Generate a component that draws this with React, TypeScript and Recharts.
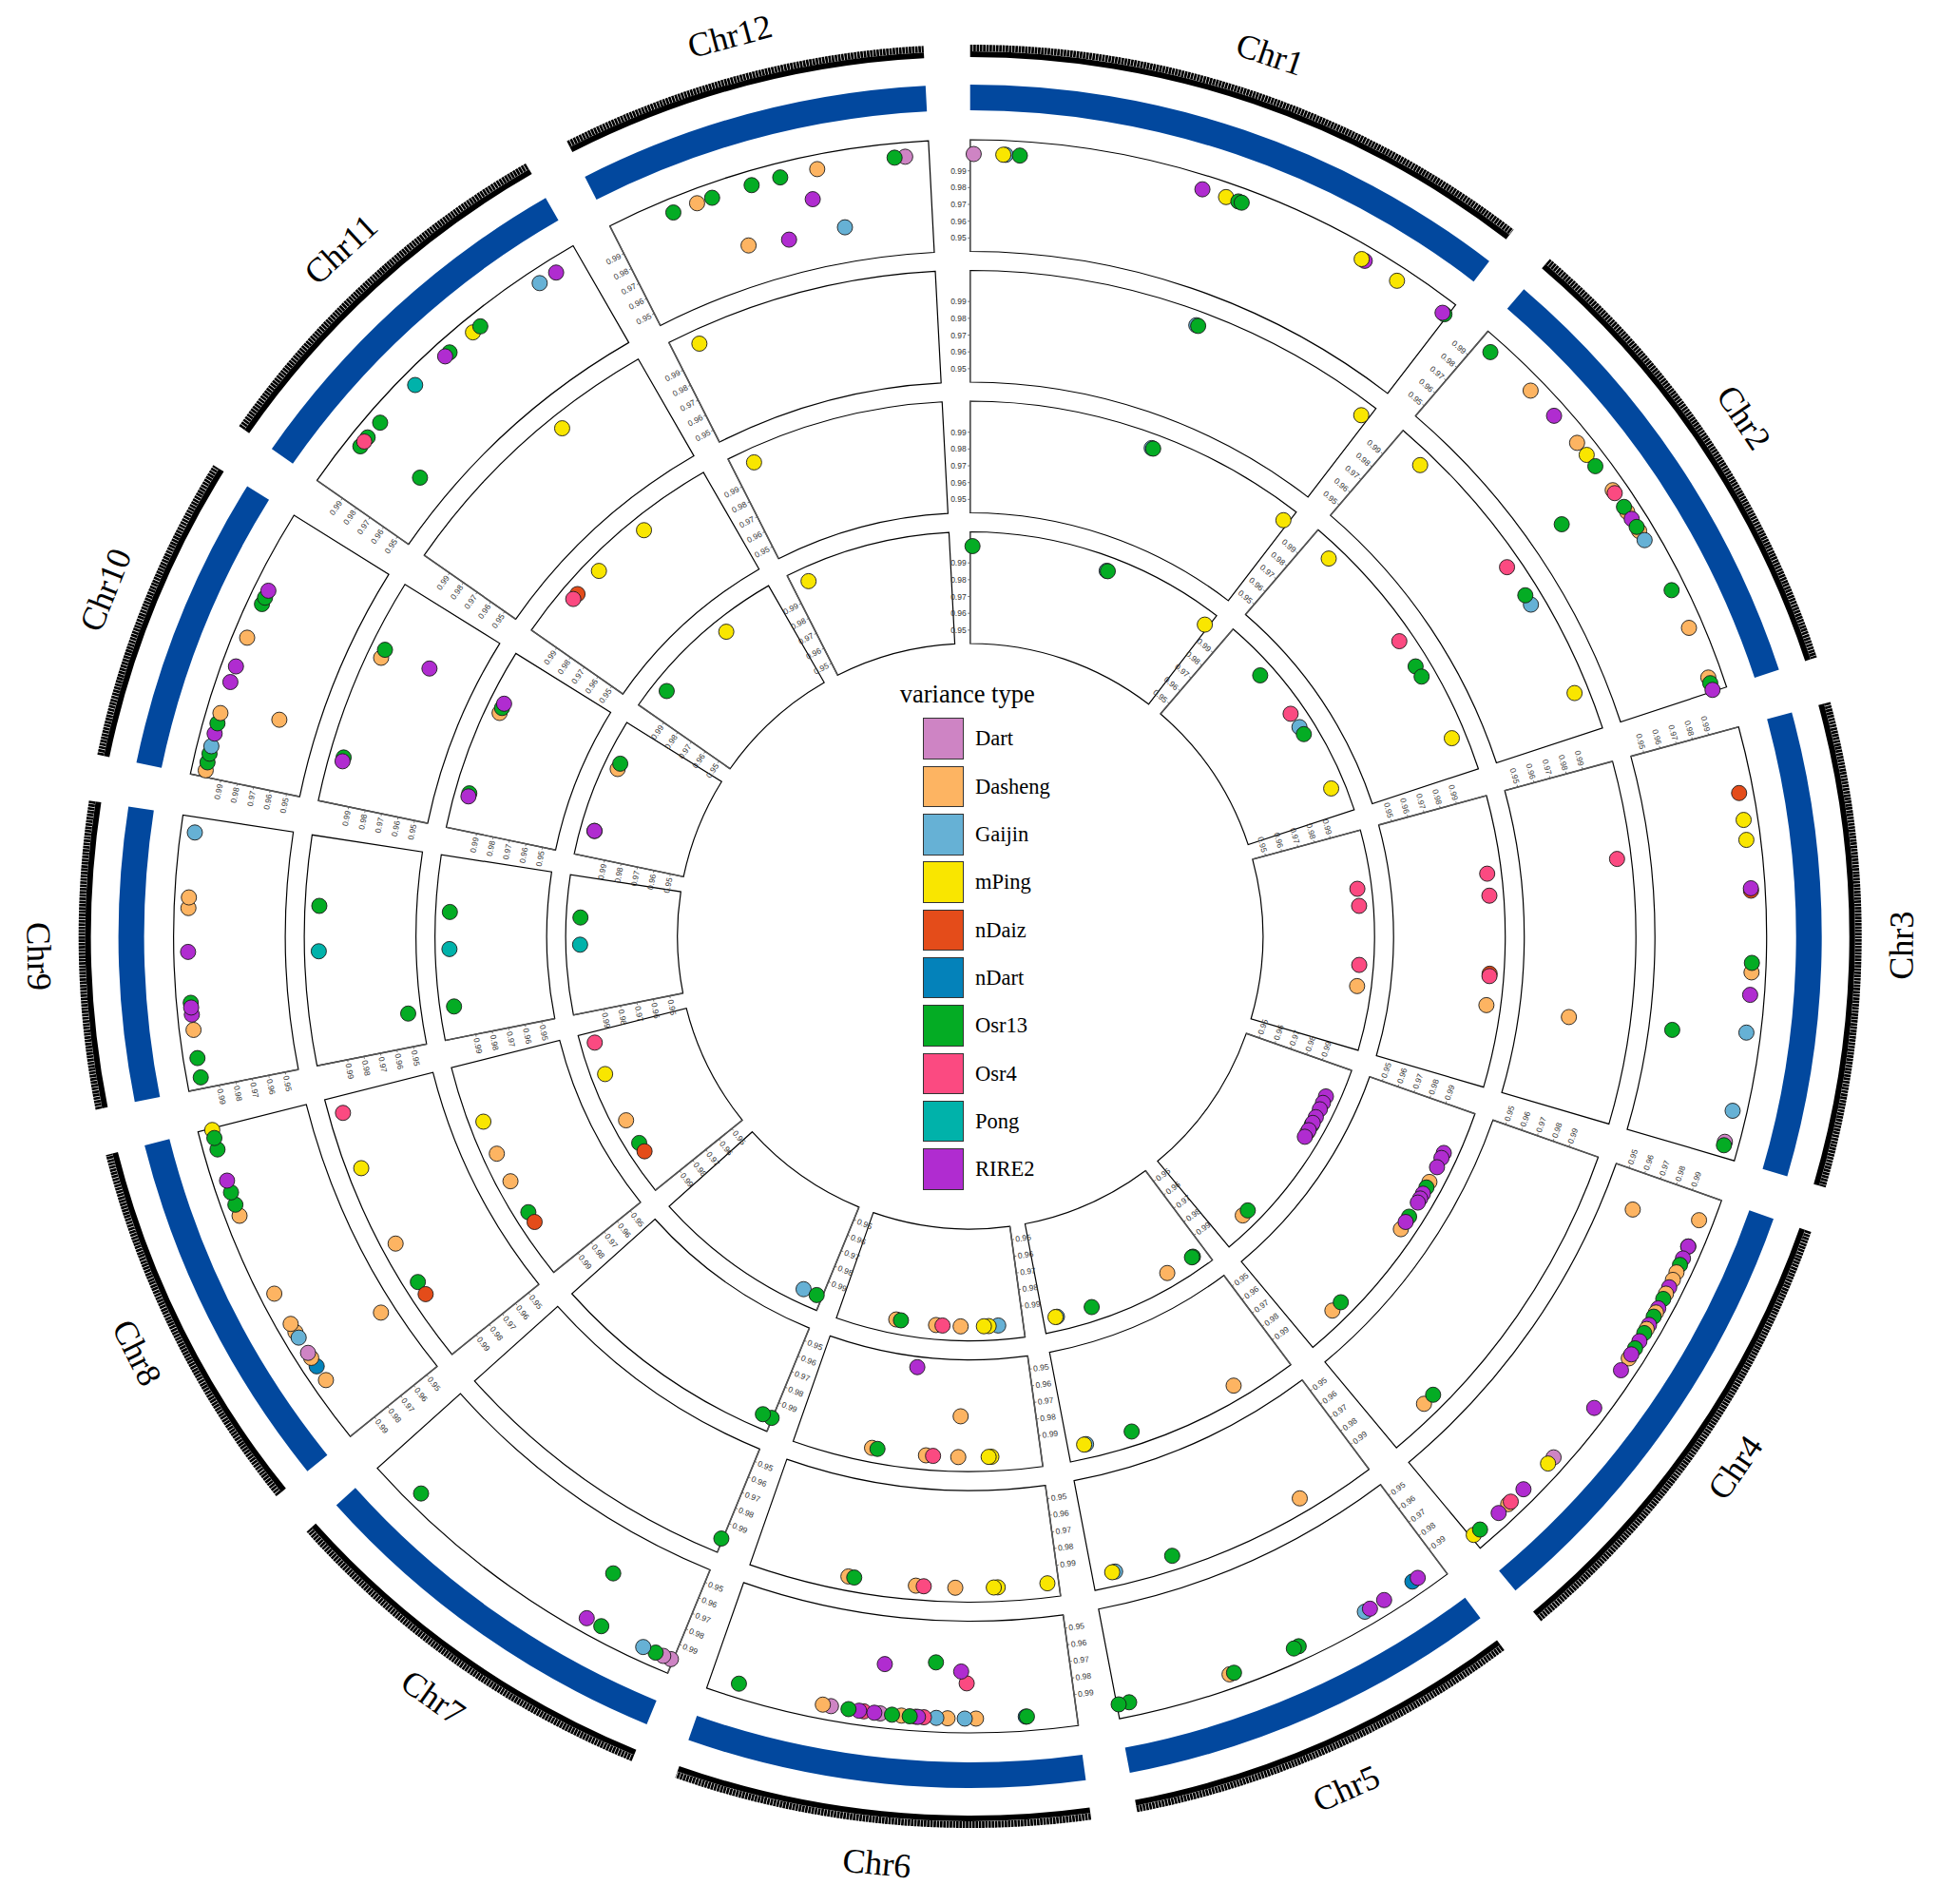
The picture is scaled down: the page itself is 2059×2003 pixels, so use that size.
import { PieChart, Pie, ScatterChart, Scatter, XAxis, YAxis } from "recharts";

const WIDTH = 2059;
const HEIGHT = 2003;
const CX = 1020.7;
const CY = 985;

const CHROMOSOMES = ["Chr1", "Chr2", "Chr3", "Chr4", "Chr5", "Chr6", "Chr7", "Chr8", "Chr9", "Chr10", "Chr11", "Chr12"];
// rice chromosome lengths, Mb
const CHR_LENGTHS = [43.27, 35.94, 36.41, 35.5, 29.96, 31.25, 29.7, 28.44, 23.01, 23.21, 29.02, 27.53];
const GAP_DEG = 3;

const VARIANCE_TYPES = ["Dart", "Dasheng", "Gaijin", "mPing", "nDaiz", "nDart", "Osr13", "Osr4", "Pong", "RIRE2"];
const TYPE_COLORS = ["#CE84C4", "#FDB462", "#66B1D5", "#F9E600", "#E44C1A", "#0482BA", "#04AC24", "#FB4A81", "#00B2AA", "#B02CD0"];

const Y_TICKS = [0.95, 0.96, 0.97, 0.98, 0.99];
const Y_MIN = 0.942;
const Y_MAX = 1.0085;

// ring radii (px)
const TICK_RING = [925, 931];
const BLUE_RING = [869, 896];
const TRACK_OUTER = [838, 700.5, 563, 425.5];
const TRACK_H = 117.5;
const LABEL_R = 980;

// [chromosome, position (Mb), value, variance type]
type Hit = [number, number, number, string];

const TRACK1_HITS: Hit[] = [
  [1, 0.3, 1, "Dart"], [1, 3.0, 1, "Gaijin"], [1, 2.8, 1, "mPing"], [1, 4.2, 1, "Osr13"],
  [1, 19.9, 1, "RIRE2"], [1, 22.0, 1, "mPing"], [1, 23.1, 1, "Osr13"], [1, 23.4, 1, "Osr13"],
  [1, 34.9, 1, "RIRE2"], [1, 34.6, 1, "mPing"], [1, 38.1, 1, "mPing"], [1, 43.0, 1, "Osr13"], [1, 42.8, 1, "RIRE2"],
  [2, 1.3, 1, "Osr13"], [2, 6.0, 1, "Dasheng"], [2, 8.9, 1, "RIRE2"], [2, 11.9, 1, "Dasheng"], [2, 13.2, 1, "mPing"],
  [2, 14.4, 1, "Osr13"], [2, 16.9, 1, "Dasheng"], [2, 17.2, 1, "Osr4"], [2, 19.1, 1, "Dasheng"], [2, 18.6, 1, "Osr13"],
  [2, 19.8, 1, "RIRE2"], [2, 21.0, 1, "Dasheng"], [2, 20.6, 1, "Osr13"], [2, 21.9, 1, "Gaijin"], [2, 16.8, 0.9635, "Osr13"],
  [2, 26.7, 1, "Osr13"], [2, 30.2, 1, "Dasheng"], [2, 34.7, 1, "Dasheng"], [2, 35.2, 1, "Osr13"], [2, 35.8, 1, "RIRE2"],
  [3, 5.4, 1, "nDaiz"], [3, 7.7, 1, "mPing"], [3, 9.4, 1, "mPing"], [3, 13.7, 1, "nDaiz"], [3, 13.5, 1, "RIRE2"],
  [3, 20.6, 1, "Dasheng"], [3, 19.8, 1, "Osr13"], [3, 22.5, 1, "RIRE2"], [3, 25.7, 1, "Gaijin"], [3, 26.3, 0.956, "Osr13"],
  [3, 32.4, 1, "Gaijin"], [3, 35.1, 1, "Dart"], [3, 35.4, 1, "Osr13"],
  [4, 2.2, 1, "Dasheng"], [4, 3.5, 0.961, "Dasheng"], [4, 4.6, 1, "Osr13"], [4, 4.6, 1, "RIRE2"], [4, 5.7, 1, "RIRE2"],
  [4, 6.3, 1, "Osr13"], [4, 7.0, 1, "Dasheng"], [4, 7.7, 1, "Dasheng"], [4, 8.4, 1, "RIRE2"], [4, 9.0, 1, "Dasheng"],
  [4, 9.5, 1, "Osr13"], [4, 10.4, 1, "RIRE2"], [4, 10.8, 1, "Dasheng"], [4, 11.2, 1, "Osr13"], [4, 12.0, 1, "RIRE2"],
  [4, 12.4, 1, "Dasheng"], [4, 12.8, 1, "Osr13"], [4, 13.6, 1, "RIRE2"], [4, 14.3, 1, "Osr13"], [4, 15.3, 1, "Dasheng"],
  [4, 14.9, 1, "RIRE2"], [4, 16.5, 1, "RIRE2"], [4, 20.4, 1, "RIRE2"], [4, 25.8, 1, "Dart"], [4, 26.5, 1, "mPing"],
  [4, 29.5, 1, "RIRE2"], [4, 31.3, 1, "Dasheng"], [4, 31.0, 1, "Osr4"], [4, 32.4, 1, "RIRE2"], [4, 35.2, 1, "mPing"],
  [4, 34.5, 1, "Osr13"],
  [5, 2.75, 1, "nDart"], [5, 2.2, 1, "RIRE2"], [5, 5.6, 1, "RIRE2"], [5, 7.5, 1, "Gaijin"], [5, 7.0, 1, "RIRE2"],
  [5, 13.8, 1, "Osr13"], [5, 14.25, 1, "Osr13"], [5, 20.1, 1, "Dasheng"], [5, 19.7, 1, "Osr13"], [5, 28.9, 1, "Osr13"],
  [5, 29.8, 1, "Osr13"],
  [6, 4.3, 1, "nDart"], [6, 4.2, 1, "Osr13"], [6, 8.5, 1, "Dasheng"], [6, 9.45, 1, "Gaijin"], [6, 10.9, 1, "Dasheng"],
  [6, 11.85, 1, "Gaijin"], [6, 12.9, 1, "Osr4"], [6, 13.6, 1, "Dasheng"], [6, 13.4, 1, "RIRE2"], [6, 14.8, 1, "Dasheng"],
  [6, 14.1, 1, "Osr13"], [6, 16.6, 1, "Dart"], [6, 15.6, 1, "Osr13"], [6, 18.0, 1, "Osr4"], [6, 17.1, 1, "RIRE2"],
  [6, 18.4, 1, "RIRE2"], [6, 19.3, 1, "Osr13"], [6, 20.8, 1, "Dart"], [6, 21.5, 1, "Dasheng"], [6, 9.3, 0.979, "Osr4"],
  [6, 9.8, 0.972, "RIRE2"], [6, 12.1, 0.967, "Osr13"], [6, 16.7, 0.9705, "RIRE2"], [6, 28.8, 1, "Osr13"],
  [7, 0.2, 1, "Dart"], [7, 0.9, 1, "Dart"], [7, 1.6, 1, "Osr13"], [7, 2.75, 1, "Gaijin"], [7, 6.7, 1, "Osr13"],
  [7, 8.1, 1, "RIRE2"], [7, 8.0, 0.969, "Osr13"], [7, 25.65, 1, "Osr13"],
  [8, 5.0, 1, "Dasheng"], [8, 6.4, 1, "nDart"], [8, 7.25, 1, "Dasheng"], [8, 7.75, 1, "Dart"], [8, 9.8, 1, "Dasheng"],
  [8, 9.26, 1, "Gaijin"], [8, 10.6, 1, "Dasheng"], [8, 13.5, 1, "Dasheng"], [8, 7.3, 0.9505, "Dasheng"], [8, 20.7, 1, "Dasheng"],
  [8, 21.7, 1, "Osr13"], [8, 22.8, 1, "Osr13"], [8, 23.85, 1, "RIRE2"], [8, 28.3, 1, "mPing"], [8, 26.6, 1, "Osr13"],
  [8, 27.6, 1, "Osr13"],
  [9, 0.95, 1, "Osr13"], [9, 2.6, 1, "Osr13"], [9, 5.0, 1, "Dasheng"], [9, 7.3, 1, "Osr13"], [9, 6.3, 1, "RIRE2"],
  [9, 6.9, 1, "RIRE2"], [9, 11.6, 1, "RIRE2"], [9, 15.3, 1, "Dasheng"], [9, 16.2, 1, "Dasheng"], [9, 21.7, 1, "Gaijin"],
  [10, 0.56, 1, "Dasheng"], [10, 1.25, 1, "Osr13"], [10, 2.0, 1, "Osr13"], [10, 2.65, 1, "Gaijin"], [10, 3.75, 1, "RIRE2"],
  [10, 4.65, 1, "Osr13"], [10, 5.55, 1, "Dasheng"], [10, 6.5, 0.9653, "Dasheng"], [10, 8.3, 1, "RIRE2"], [10, 9.7, 1, "RIRE2"],
  [10, 12.3, 1, "Dasheng"], [10, 15.4, 1, "Osr13"], [10, 16.0, 1, "Osr13"], [10, 16.65, 1, "RIRE2"],
  [11, 4.46, 1, "Osr13"], [11, 5.43, 1, "Osr13"], [11, 4.98, 1, "Osr4"], [11, 5.65, 0.9607, "Osr13"], [11, 7.06, 1, "Osr13"],
  [11, 11.4, 1, "Pong"], [11, 15.4, 1, "Osr13"], [11, 14.9, 1, "RIRE2"], [11, 18.0, 1, "mPing"], [11, 18.8, 1, "Osr13"],
  [11, 25.0, 1, "Gaijin"], [11, 26.65, 1, "RIRE2"],
  [12, 5.3, 1, "Osr13"], [12, 7.45, 1, "Dasheng"], [12, 8.8, 1, "Osr13"], [12, 10.5, 0.9662, "Dasheng"], [12, 12.3, 1, "Osr13"],
  [12, 14.2, 0.9628, "RIRE2"], [12, 14.8, 1, "Osr13"], [12, 17.1, 0.983, "RIRE2"], [12, 18.0, 1, "Dasheng"],
  [12, 19.45, 0.9629, "Gaijin"], [12, 25.5, 1, "Dart"], [12, 24.6, 1, "Osr13"],
];

const TRACK2_HITS: Hit[] = [
  [1, 23.4, 1, "Gaijin"], [1, 23.6, 1, "Osr13"], [1, 42.5, 1, "mPing"],
  [2, 3.6, 1, "mPing"], [2, 17.2, 1, "Osr4"], [2, 21.7, 1, "Gaijin"], [2, 20.6, 1, "Osr13"], [2, 31.7, 1, "mPing"],
  [3, 9.7, 1, "Osr4"], [3, 26.4, 0.9718, "Dasheng"],
  [4, 30.5, 1, "Dasheng"], [4, 29.2, 1, "Osr13"],
  [5, 7.4, 1, "Dasheng"], [5, 21.6, 1, "Osr13"], [5, 27.6, 1, "Gaijin"], [5, 27.9, 1, "mPing"],
  [6, 1.15, 1, "mPing"], [6, 6.2, 1, "mPing"], [6, 6.6, 1, "mPing"], [6, 10.5, 1, "Dasheng"], [6, 14.5, 1, "Dasheng"],
  [6, 13.7, 1, "Osr4"], [6, 21.4, 1, "Dasheng"], [6, 20.8, 1, "Osr13"],
  [7, 0.15, 1, "Osr13"],
  [8, 7.9, 1, "Osr13"], [8, 6.44, 1, "nDaiz"], [8, 12.4, 1, "Dasheng"], [8, 20.8, 1, "mPing"], [8, 26.7, 1, "Osr4"],
  [9, 3.9, 0.9498, "Osr13"], [9, 11.4, 1, "Pong"], [9, 16.0, 1, "Osr13"],
  [10, 4.8, 1, "Osr13"], [10, 4.4, 1, "RIRE2"], [10, 15.6, 1, "Dasheng"], [10, 16.5, 1, "Osr13"], [10, 16.8, 0.9713, "RIRE2"],
  [11, 18.8, 1, "mPing"],
  [12, 2.7, 1, "mPing"],
];

const TRACK3_HITS: Hit[] = [
  [1, 23.5, 1, "Gaijin"], [1, 23.7, 1, "Osr13"], [1, 42.6, 1, "mPing"],
  [2, 3.4, 1, "mPing"], [2, 17.2, 1, "Osr4"], [2, 21.0, 1, "Osr13"], [2, 22.5, 1, "Osr13"], [2, 31.2, 1, "mPing"],
  [3, 9.6, 1, "Osr4"], [3, 12.4, 1, "Osr4"], [3, 22.3, 1, "nDaiz"], [3, 22.6, 1, "Osr4"], [3, 26.3, 1, "Dasheng"],
  [4, 6.0, 1, "RIRE2"], [4, 6.7, 1, "RIRE2"], [4, 8.0, 1, "RIRE2"], [4, 10.1, 1, "Dasheng"], [4, 10.9, 1, "Osr13"],
  [4, 11.8, 1, "RIRE2"], [4, 12.5, 1, "RIRE2"], [4, 13.1, 1, "RIRE2"], [4, 17.1, 1, "Dasheng"], [4, 15.2, 1, "Osr13"],
  [4, 16.0, 1, "RIRE2"], [4, 30.6, 1, "Dasheng"], [4, 29.1, 1, "Osr13"],
  [5, 7.4, 1, "Dasheng"], [5, 21.6, 1, "Osr13"], [5, 27.6, 1, "Gaijin"], [5, 27.85, 1, "mPing"],
  [6, 6.3, 1, "mPing"], [6, 6.65, 1, "mPing"], [6, 10.3, 0.9757, "Dasheng"], [6, 10.5, 1, "Dasheng"], [6, 14.6, 1, "Dasheng"],
  [6, 13.7, 1, "Osr4"], [6, 17.05, 0.9483, "RIRE2"], [6, 21.5, 1, "Dasheng"], [6, 20.8, 1, "Osr13"],
  [7, 0.1, 1, "Osr13"], [7, 1.3, 1, "Osr13"],
  [8, 7.97, 1, "Osr13"], [8, 6.5, 1, "nDaiz"], [8, 12.5, 1, "Dasheng"], [8, 16.4, 1, "Dasheng"], [8, 20.8, 1, "mPing"],
  [9, 4.0, 1, "Osr13"], [9, 11.3, 1, "Pong"], [9, 16.0, 1, "Osr13"],
  [10, 4.8, 1, "Osr13"], [10, 4.4, 1, "RIRE2"], [10, 15.7, 1, "Dasheng"], [10, 16.4, 1, "Osr13"], [10, 17.0, 1, "RIRE2"],
  [11, 7.1, 1, "nDaiz"], [11, 6.28, 1, "Osr4"], [11, 11.1, 1, "mPing"], [11, 18.8, 1, "mPing"],
  [12, 2.75, 1, "mPing"],
];

const TRACK4_HITS: Hit[] = [
  [1, 0.4, 1, "Osr13"], [1, 23.6, 1, "Gaijin"], [1, 23.8, 1, "Osr13"], [1, 42.6, 1, "mPing"],
  [2, 8.6, 1, "Osr13"], [2, 16.9, 1, "Osr4"], [2, 19.6, 1, "Gaijin"], [2, 21.0, 1, "Osr13"], [2, 31.3, 1, "mPing"],
  [3, 9.5, 1, "Osr4"], [3, 12.4, 1, "Osr4"], [3, 22.4, 1, "Osr4"], [3, 26.0, 1, "Dasheng"],
  [4, 5.6, 1, "RIRE2"], [4, 6.8, 1, "RIRE2"], [4, 8.0, 1, "RIRE2"], [4, 9.5, 1, "RIRE2"], [4, 11.0, 1, "Osr13"],
  [4, 10.6, 1, "RIRE2"], [4, 12.5, 1, "Dasheng"], [4, 12.0, 1, "RIRE2"], [4, 13.3, 1, "RIRE2"], [4, 30.3, 1, "Dasheng"],
  [4, 29.1, 1, "Osr13"],
  [5, 2.3, 1, "Osr13"], [5, 2.5, 1, "Osr13"], [5, 7.45, 1, "Dasheng"], [5, 21.5, 1, "Osr13"], [5, 27.6, 1, "Gaijin"],
  [5, 27.85, 1, "mPing"],
  [6, 4.24, 1, "Gaijin"], [6, 5.86, 1, "mPing"], [6, 6.67, 1, "mPing"], [6, 10.6, 1, "Dasheng"], [6, 14.77, 1, "Dasheng"],
  [6, 13.67, 1, "Osr4"], [6, 21.57, 1, "Dasheng"], [6, 20.76, 1, "Osr13"],
  [7, 3.4, 1, "Gaijin"], [7, 0.97, 1, "Osr13"],
  [8, 7.97, 1, "Osr13"], [8, 6.3, 1, "nDaiz"], [8, 12.4, 1, "Dasheng"], [8, 21.0, 1, "mPing"], [8, 26.6, 1, "Osr4"],
  [9, 11.5, 1, "Pong"], [9, 16.1, 1, "Osr13"],
  [10, 4.5, 1, "Osr13"], [10, 4.5, 1, "RIRE2"], [10, 15.7, 1, "Dasheng"], [10, 16.7, 1, "Osr13"],
  [11, 4.65, 1, "Osr13"], [11, 18.9, 1, "mPing"],
  [12, 2.8, 1, "mPing"],
];

const TRACKS = [TRACK1_HITS, TRACK2_HITS, TRACK3_HITS, TRACK4_HITS];

const TOTAL_MB = CHR_LENGTHS.reduce((a, b) => a + b, 0);
const DEG_PER_MB = (360 - GAP_DEG * CHROMOSOMES.length) / TOTAL_MB;
const GAP_MB = GAP_DEG / DEG_PER_MB;
const CHR_OFFSETS = CHR_LENGTHS.map((_, i) => CHR_LENGTHS.slice(0, i).reduce((a, b) => a + b, 0) + i * GAP_MB);
const X_MAX = 360 / DEG_PER_MB;

const CHR_DATA = CHROMOSOMES.map((name, i) => ({ name, length: CHR_LENGTHS[i] }));

const colorOf = (t: string) => TYPE_COLORS[VARIANCE_TYPES.indexOf(t)] ?? "#999";

// angle in degrees clockwise from 12 o'clock
const polar = (cx: number, cy: number, r: number, a: number): [number, number] => {
  const rad = (a * Math.PI) / 180;
  return [cx + r * Math.sin(rad), cy - r * Math.cos(rad)];
};

const arcPath = (cx: number, cy: number, r: number, a0: number, a1: number) => {
  const [x0, y0] = polar(cx, cy, r, a0);
  const [x1, y1] = polar(cx, cy, r, a1);
  const large = a1 - a0 > 180 ? 1 : 0;
  return `M ${x0} ${y0} A ${r} ${r} 0 ${large} 1 ${x1} ${y1}`;
};

const SERIF = "'Liberation Serif', 'Times New Roman', serif";
const SANS = "'Liberation Sans', Arial, sans-serif";

// outer ruler ticks + chromosome names
const renderChrLabel = (p: any) => {
  const a0 = 90 - p.startAngle;
  const a1 = 90 - p.endAngle;
  const am = (a0 + a1) / 2;
  const [lx, ly] = polar(p.cx, p.cy, LABEL_R, am);
  const rot = am > 90 && am < 270 ? am - 180 : am;
  const name = p.payload?.name ?? p.name;
  return (
    <g key={`chr-${name}`}>
      <path
        d={arcPath(p.cx, p.cy, 934.5, a0, a1)}
        fill="none"
        stroke="#000"
        strokeWidth={7}
        strokeDasharray="2.7 0.7"
      />
      <text
        x={lx}
        y={ly}
        transform={`rotate(${rot} ${lx} ${ly})`}
        textAnchor="middle"
        dominantBaseline="central"
        fontSize={36}
        fontFamily={SERIF}
        fill="#000"
      >
        {name}
      </text>
    </g>
  );
};

// y axis on the start edge of each cell
const renderTrackAxis = (p: any) => {
  const a0 = 90 - p.startAngle;
  const inner = p.innerRadius;
  const outer = p.outerRadius;
  const rad = (a0 * Math.PI) / 180;
  const tx = Math.cos(rad);
  const ty = Math.sin(rad);
  const lower = a0 > 90 && a0 < 270;
  const rot = lower ? a0 - 180 : a0;
  const [x0, y0] = polar(p.cx, p.cy, inner, a0);
  const [x1, y1] = polar(p.cx, p.cy, outer, a0);
  return (
    <g key={`ax-${p.index}-${inner}`}>
      <line x1={x0} y1={y0} x2={x1} y2={y1} stroke="#555" strokeWidth={1.6} />
      {Y_TICKS.map((v) => {
        const r = inner + ((v - Y_MIN) / (Y_MAX - Y_MIN)) * (outer - inner);
        const [px, py] = polar(p.cx, p.cy, r, a0);
        const lx = px - tx * 4;
        const ly = py - ty * 4;
        return (
          <g key={v}>
            <line x1={px} y1={py} x2={px - tx * 2.5} y2={py - ty * 2.5} stroke="#555" strokeWidth={0.8} />
            <text
              x={lx}
              y={ly}
              transform={`rotate(${rot} ${lx} ${ly})`}
              textAnchor={lower ? "start" : "end"}
              dominantBaseline="central"
              fontSize={8.5}
              fontFamily={SANS}
              fill="#333"
            >
              {v.toFixed(2)}
            </text>
          </g>
        );
      })}
    </g>
  );
};

// scatter x/y come from the chart's linear scales, then wrapped round the circle
const PolarDot = (props: any) => {
  const { cx, cy, payload } = props;
  if (cx == null || cy == null || !payload) return null;
  const angle = (cx / WIDTH) * 360;
  const frac = (HEIGHT - cy) / HEIGHT;
  const r = TRACK_OUTER[payload.track] - TRACK_H + frac * TRACK_H;
  const [x, y] = polar(CX, CY, r, angle);
  return <circle cx={x} cy={y} r={8} fill={colorOf(payload.type)} stroke="#1a1a1a" strokeWidth={0.9} />;
};

const trackPoints = (hits: Hit[], track: number) =>
  hits.map(([chr, pos, value, type]) => ({ x: CHR_OFFSETS[chr - 1] + pos, y: value, track, type }));

export default function App() {
  const pieCommon = {
    data: CHR_DATA,
    dataKey: "length",
    nameKey: "name",
    cx: CX,
    cy: CY,
    startAngle: 90,
    endAngle: -270,
    paddingAngle: GAP_DEG,
    isAnimationActive: false,
    labelLine: false,
  };

  return (
    <div style={{ position: "relative", width: WIDTH, height: HEIGHT, background: "#fff" }}>
      <style>{"body{margin:0;background:#fff}"}</style>
      <div style={{ position: "absolute", left: 0, top: 0 }}>
        <PieChart width={WIDTH} height={HEIGHT} margin={{ top: 0, right: 0, bottom: 0, left: 0 }}>
          <Pie
            {...pieCommon}
            innerRadius={TICK_RING[0]}
            outerRadius={TICK_RING[1]}
            fill="#000"
            stroke="none"
            label={renderChrLabel}
          />
          <Pie {...pieCommon} innerRadius={BLUE_RING[0]} outerRadius={BLUE_RING[1]} fill="#02489E" stroke="none" />
          {TRACK_OUTER.map((outer, k) => (
            <Pie
              key={`track-${k}`}
              {...pieCommon}
              innerRadius={outer - TRACK_H}
              outerRadius={outer}
              fill="#fff"
              stroke="#000"
              strokeWidth={1.2}
              label={renderTrackAxis}
            />
          ))}
        </PieChart>
      </div>
      <div style={{ position: "absolute", left: 0, top: 0 }}>
        <ScatterChart width={WIDTH} height={HEIGHT} margin={{ top: 0, right: 0, bottom: 0, left: 0 }}>
          <XAxis type="number" dataKey="x" domain={[0, X_MAX]} hide allowDataOverflow />
          <YAxis type="number" dataKey="y" domain={[Y_MIN, Y_MAX]} hide allowDataOverflow />
          {TRACKS.map((hits, k) => (
            <Scatter
              key={`pts-${k}`}
              data={trackPoints(hits, k)}
              shape={PolarDot}
              isAnimationActive={false}
            />
          ))}
        </ScatterChart>
      </div>
      <div
        style={{
          position: "absolute",
          left: 946.7,
          top: 714,
          fontFamily: SERIF,
          fontSize: 26.5,
          lineHeight: "32px",
          color: "#000",
          whiteSpace: "nowrap",
        }}
      >
        variance type
      </div>
      {VARIANCE_TYPES.map((t, i) => (
        <div key={t}>
          <div
            style={{
              position: "absolute",
              left: 970.7,
              top: 755.4 + i * 50.3,
              width: 43.6,
              height: 43.6,
              background: TYPE_COLORS[i],
              border: "1px solid #333",
              boxSizing: "border-box",
            }}
          />
          <div
            style={{
              position: "absolute",
              left: 1026,
              top: 755.4 + i * 50.3,
              height: 43.6,
              lineHeight: "43.6px",
              fontFamily: SERIF,
              fontSize: 22.5,
              color: "#000",
              whiteSpace: "nowrap",
            }}
          >
            {t}
          </div>
        </div>
      ))}
    </div>
  );
}
